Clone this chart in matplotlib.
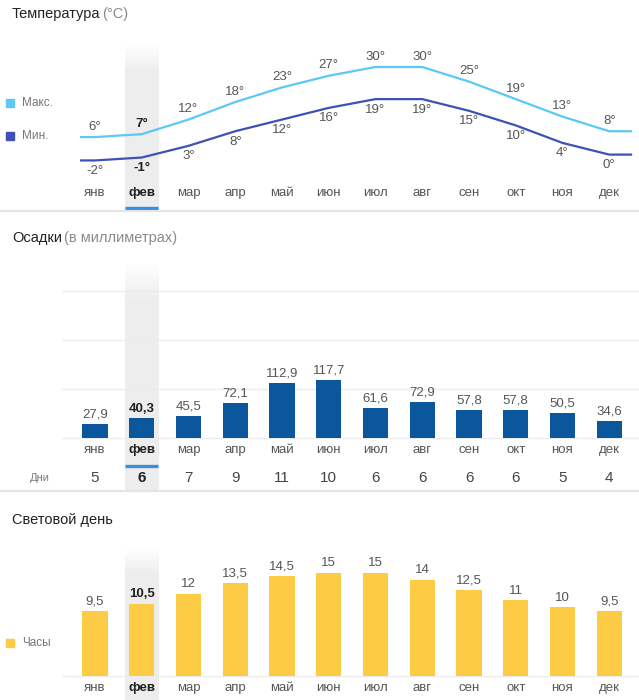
import numpy as np
import matplotlib.pyplot as plt

plt.rcParams['font.family'] = ['Liberation Sans', 'DejaVu Sans']

# Data
months = ["янв", "фев", "мар", "апр", "май", "июн",
          "июл", "авг", "сен", "окт", "ноя", "дек"]
t_max = [6, 7, 12, 18, 23, 27, 30, 30, 25, 19, 13, 8]
t_min = [-2, -1, 3, 8, 12, 16, 19, 19, 15, 10, 4, 0]
rain_mm = [27.9, 40.3, 45.5, 72.1, 112.9, 117.7, 61.6, 72.9, 57.8, 57.8, 50.5, 34.6]
rain_days = [5, 6, 7, 9, 11, 10, 6, 6, 6, 6, 5, 4]
daylight = [9.5, 10.5, 12, 13.5, 14.5, 15, 15, 14, 12.5, 11, 10, 9.5]
current = 1  # фев

# Layout (pixels)
W, H = 639, 700
X0, DX = 95, 46.75          # centre of first month, step between months
XLIM = (-X0 / DX, (W - X0) / DX)

C_MAX = "#5bc8f5"
C_MIN = "#3f51b5"
C_RAIN = "#0b579e"
C_SUN = "#fecb45"
C_TITLE = "#222222"
C_SUB = "#8a8a8a"
C_TXT = "#555555"
C_SEL = "#3b8de0"

fig = plt.figure(figsize=(W / 100, H / 100), dpi=100)


def px_axes(top, bottom, zero_px, scale):
    # axes covering the full width between pixel rows top..bottom,
    # with value 0 at zero_px and `scale` pixels per unit
    ax = fig.add_axes([0, 1 - bottom / H, 1, (bottom - top) / H])
    ax.set_xlim(*XLIM)
    ax.set_ylim(-(bottom - zero_px) / scale, (zero_px - top) / scale)
    ax.axis("off")
    return ax


def ftext(x, y, s, **kw):
    fig.text(x / W, 1 - y / H, s, va="center", **kw)


def highlight(ax):
    # grey column behind the current month, fading in at the top
    alpha = np.clip(np.linspace(0, 6, 100), 0, 1)
    rgba = np.zeros((100, 1, 4))
    rgba[:, 0, :3] = 0.93
    rgba[:, 0, 3] = alpha
    y0, y1 = ax.get_ylim()
    ax.imshow(rgba, aspect="auto", zorder=0, origin="upper", interpolation="bilinear",
              extent=[current - 0.355, current + 0.355, y0, y1])
    ax.set_xlim(*XLIM)
    ax.set_ylim(y0, y1)


def month_labels(ax, y_px, top, bottom):
    for i, m in enumerate(months):
        bold = i == current
        ax.text(i, 1 - (y_px - top) / (bottom - top), m, transform=ax.get_xaxis_transform(),
                ha="center", va="center", fontsize=9.5,
                color=C_TITLE if bold else C_TXT, fontweight="bold" if bold else "normal")


def underline(ax, y_px, top, bottom):
    yy = 1 - (y_px - top) / (bottom - top)
    ax.plot([current - 0.355, current + 0.355], [yy, yy], transform=ax.get_xaxis_transform(),
            color=C_SEL, lw=2.4, solid_capstyle="butt", clip_on=False)


# ---------- Temperature ----------
ftext(12, 14, "Температура", fontsize=10.5, color=C_TITLE)
ftext(102, 14, "(°C)", fontsize=10.5, color=C_SUB)

ax1 = px_axes(45, 210, 67 + 30 * 2.92, 2.92)
highlight(ax1)
x = np.arange(len(months))
xe = np.concatenate([[-0.32], x, [11.49]])
ax1.plot(xe, [t_max[0]] + t_max + [t_max[-1]], color=C_MAX, lw=1.6, solid_capstyle="butt")
ax1.plot(xe, [t_min[0]] + t_min + [t_min[-1]], color=C_MIN, lw=1.6, solid_capstyle="butt")
for i in x:
    bold = i == current
    kw = dict(ha="center", va="center", fontsize=9.5, textcoords="offset points",
              color=C_TITLE if bold else C_TXT, fontweight="bold" if bold else "normal")
    ax1.annotate(f"{t_max[i]}°", (i, t_max[i]), xytext=(0, 7.5), **kw)
    ax1.annotate(f"{t_min[i]}°", (i, t_min[i]), xytext=(0, -7.5), **kw)
month_labels(ax1, 193, 45, 210)
underline(ax1, 208, 45, 210)

fig.add_artist(plt.Rectangle((6 / W, 1 - 107 / H), 8 / W, 8 / H, color=C_MAX,
                             transform=fig.transFigure))
ftext(22, 103, "Макс.", fontsize=8.5, color="#777777")
fig.add_artist(plt.Rectangle((6 / W, 1 - 140 / H), 8 / W, 8 / H, color=C_MIN,
                             transform=fig.transFigure))
ftext(22, 136, "Мин.", fontsize=8.5, color="#777777")

fig.add_artist(plt.Line2D([0, 1], [1 - 210.5 / H] * 2, color="#e4e4e4", lw=1.5,
                          transform=fig.transFigure))

# ---------- Precipitation ----------
ftext(12, 238, "Осадки", fontsize=10.5, color=C_TITLE)
ftext(64, 238, "(в миллиметрах)", fontsize=10.5, color=C_SUB)

ax2 = px_axes(262, 490, 438, 0.49)
highlight(ax2)
for g in [0, 100, 200, 300]:
    ax2.plot([(62 - X0) / DX, XLIM[1]], [g, g], color="#ececec", lw=1, zorder=0.5)
ax2.bar(x, rain_mm, width=0.535, color=C_RAIN, zorder=2)
for i in x:
    bold = i == current
    ax2.annotate(f"{rain_mm[i]:.1f}".replace(".", ","), (i, rain_mm[i]), xytext=(0, 2.5),
                 textcoords="offset points", ha="center", va="bottom", fontsize=9.5,
                 color=C_TITLE if bold else C_TXT, fontweight="bold" if bold else "normal")
month_labels(ax2, 450, 262, 490)
underline(ax2, 466, 262, 490)

ftext(40, 478, "Дни", fontsize=8, color="#777777", ha="center")
for i, d in enumerate(rain_days):
    bold = i == current
    ax2.text(i, 1 - (478 - 262) / (490 - 262), str(d), transform=ax2.get_xaxis_transform(),
             ha="center", va="center", fontsize=11,
             color=C_TITLE if bold else "#444444", fontweight="bold" if bold else "normal")

fig.add_artist(plt.Line2D([0, 1], [1 - 490.5 / H] * 2, color="#e4e4e4", lw=1.5,
                          transform=fig.transFigure))

# ---------- Daylight ----------
ftext(12, 520, "Световой день", fontsize=10.5, color=C_TITLE)

ax3 = px_axes(548, 700, 676, 6.87)
highlight(ax3)
ax3.plot([(62 - X0) / DX, XLIM[1]], [0, 0], color="#ececec", lw=1, zorder=0.5)
ax3.bar(x, daylight, width=0.535, color=C_SUN, zorder=2)
for i in x:
    bold = i == current
    v = daylight[i]
    lab = f"{v:g}".replace(".", ",")
    ax3.annotate(lab, (i, v), xytext=(0, 2.5), textcoords="offset points",
                 ha="center", va="bottom", fontsize=9.5,
                 color=C_TITLE if bold else C_TXT, fontweight="bold" if bold else "normal")
month_labels(ax3, 688, 548, 700)

fig.add_artist(plt.Rectangle((6 / W, 1 - 647 / H), 8 / W, 8 / H, color=C_SUN,
                             transform=fig.transFigure))
ftext(22, 643, "Часы", fontsize=8.5, color="#777777")

fig.savefig("out.png", dpi=100)
